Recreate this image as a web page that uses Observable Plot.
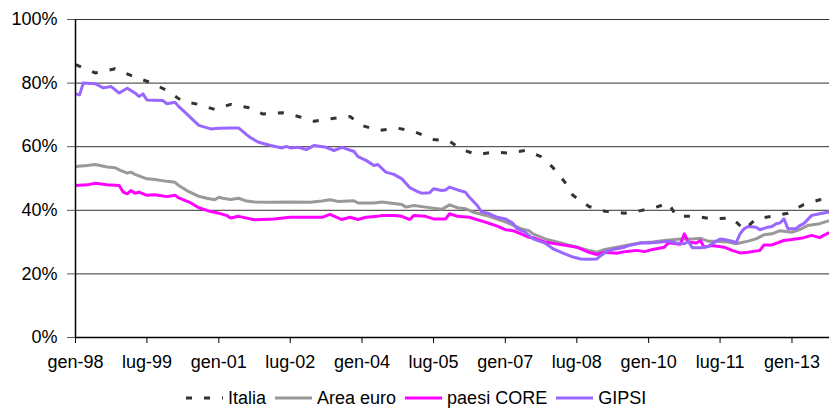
<!DOCTYPE html>
<html><head><meta charset="utf-8">
<script src="https://cdn.jsdelivr.net/npm/d3@7"></script>
<script src="https://cdn.jsdelivr.net/npm/@observablehq/plot@0.6"></script>
<style>
body{margin:0;background:#fff;font-family:"Liberation Sans",Arial,sans-serif;}
#chart svg{display:block;}
#legend{position:relative;height:28px;width:829px;font-size:18px;color:#000;display:flex;align-items:center;padding-left:186px;box-sizing:border-box;white-space:nowrap;}
.item{display:flex;align-items:center;margin-right:9px;}
.item svg{margin-right:5px;display:block;}
</style></head><body>
<div id="chart"></div>
<div id="legend"></div>
<script>
const monthNames = ["gen","feb","mar","apr","mag","giu","lug","ago","set","ott","nov","dic"];
const tickDates = ["1998-01","1999-07","2001-01","2002-07","2004-01","2005-07","2007-01","2008-07","2010-01","2011-07","2013-01"];
const yTicks = [0,20,40,60,80,100];
const seriesNames = ["Italia","Area euro","paesi CORE","GIPSI"];
const seriesColors = ["#333333","#999999","#ff00ff","#9966ff"];

const italia = [["1998-01",85.8],["1998-06",83.2],["1998-11",84.5],["1999-03",82.4],["1999-08",80.1],["1999-12",77.7],
["2000-04",74.2],["2000-08",73.3],["2000-12",71.7],["2001-04",73.3],["2001-09",72.2],["2001-12",70.3],["2002-05",70.7],
["2002-09",69.5],["2003-01",68.0],["2003-05",68.8],["2003-10",69.5],["2004-01",66.7],["2004-05",65.1],["2004-10",65.8],
["2005-02",64.8],["2005-07",62.3],["2005-11",61.7],["2006-02",59.1],["2006-06",57.5],["2006-10",58.3],["2007-02",58.0],
["2007-06",58.8],["2007-10",56.9],["2008-01",53.4],["2008-04",48.8],["2008-06",44.7],["2008-10",41.2],["2009-02",39.7],
["2009-07",39.1],["2009-11",39.9],["2010-03",41.0],["2010-06",42.3],["2010-08",38.1],["2011-01",38.1],["2011-05",37.3],
["2011-10",37.6],["2012-01",33.9],["2012-04",37.3],["2012-08",38.1],["2012-12",39.1],["2013-04",41.8],["2013-08",43.3],["2013-11",43.3]];

const areaEuro = [["1998-01",53.8],["1998-04",54.1],["1998-06",54.4],["1998-09",53.6],["1998-11",53.4],["1998-12",52.7],
["1999-02",51.7],["1999-03",52.0],["1999-04",51.3],["1999-07",49.9],["1999-09",49.7],["1999-12",49.1],["2000-02",48.8],
["2000-03",47.8],["2000-05",46.2],["2000-08",44.4],["2000-10",43.8],["2000-12",43.3],["2001-01",44.1],["2001-02",43.8],
["2001-04",43.4],["2001-06",43.8],["2001-08",42.9],["2001-10",42.6],["2002-02",42.5],["2002-07",42.6],["2002-12",42.5],
["2003-03",42.9],["2003-05",43.3],["2003-07",42.8],["2003-11",43.0],["2003-12",42.3],["2004-04",42.3],["2004-06",42.6],
["2004-08",42.3],["2004-11",41.8],["2004-12",41.0],["2005-02",41.5],["2005-05",41.0],["2005-09",40.3],["2005-11",41.7],
["2006-01",40.8],["2006-03",40.5],["2006-05",39.4],["2006-09",38.1],["2006-12",36.8],["2007-02",35.8],["2007-05",34.2],
["2007-07",33.6],["2007-08",32.6],["2007-11",31.0],["2008-03",29.7],["2008-07",28.4],["2008-10",27.4],["2008-12",26.8],
["2009-02",27.7],["2009-05",28.4],["2009-07",28.9],["2009-11",29.8],["2010-02",30.0],["2010-05",30.5],["2010-09",31.0],
["2010-12",31.0],["2011-02",31.2],["2011-04",30.3],["2011-06",30.3],["2011-09",30.0],["2011-11",29.5],["2012-02",30.3],
["2012-04",31.0],["2012-06",32.3],["2012-08",32.6],["2012-10",33.6],["2013-01",33.1],["2013-03",33.9],["2013-05",35.2],
["2013-08",35.8],["2013-10",36.6],["2013-11",36.8]];

const paesiCore = [["1998-01",47.8],["1998-04",48.0],["1998-06",48.5],["1998-09",48.0],["1998-12",47.8],["1999-01",45.7],
["1999-02",45.2],["1999-03",46.2],["1999-04",45.4],["1999-05",45.7],["1999-07",44.7],["1999-09",44.9],["1999-12",44.3],
["2000-02",44.7],["2000-03",43.9],["2000-06",42.3],["2000-08",40.8],["2000-11",39.6],["2001-01",39.1],["2001-02",38.7],
["2001-03",38.4],["2001-04",37.6],["2001-06",38.1],["2001-10",37.0],["2002-03",37.3],["2002-07",37.8],["2002-11",37.8],
["2003-03",37.8],["2003-05",38.7],["2003-08",37.1],["2003-10",37.8],["2003-12",37.1],["2004-02",37.8],["2004-05",38.1],
["2004-06",38.4],["2004-09",38.4],["2004-11",38.1],["2005-01",37.1],["2005-02",38.4],["2005-05",38.1],["2005-07",37.3],
["2005-10",37.3],["2005-11",38.9],["2006-01",38.1],["2006-04",37.8],["2006-08",36.3],["2006-11",35.0],["2007-01",33.9],
["2007-03",33.6],["2007-05",32.6],["2007-07",31.5],["2007-08",31.4],["2007-11",30.0],["2008-03",29.2],["2008-07",28.4],
["2008-10",26.8],["2008-12",26.1],["2009-02",26.8],["2009-05",26.5],["2009-07",27.0],["2009-10",27.4],["2009-12",27.0],
["2010-02",27.7],["2010-05",28.4],["2010-06",29.8],["2010-09",29.3],["2010-10",32.6],["2010-11",30.0],["2011-01",29.7],
["2011-02",30.5],["2011-03",28.4],["2011-05",28.9],["2011-08",28.4],["2011-10",27.4],["2011-12",26.6],["2012-02",26.8],
["2012-05",27.4],["2012-06",29.1],["2012-08",29.1],["2012-11",30.5],["2013-01",30.8],["2013-04",31.4],["2013-06",32.1],
["2013-08",31.4],["2013-10",32.8],["2013-11",32.9]];

const gipsi = [["1998-01",76.6],["1998-02",76.3],["1998-03",80.0],["1998-06",79.8],["1998-08",78.5],["1998-10",78.9],
["1998-12",76.9],["1999-02",78.4],["1999-04",76.9],["1999-05",75.8],["1999-06",76.6],["1999-07",74.7],["1999-11",74.5],
["1999-12",73.5],["2000-02",74.0],["2000-03",72.6],["2000-05",70.3],["2000-07",67.9],["2000-08",66.7],["2000-11",65.6],
["2001-01",65.8],["2001-04",65.9],["2001-06",65.9],["2001-08",63.8],["2001-09",62.8],["2001-11",61.4],["2002-02",60.4],
["2002-05",59.6],["2002-06",60.1],["2002-07",59.6],["2002-09",59.8],["2002-11",59.1],["2003-01",60.4],["2003-04",59.8],
["2003-06",58.8],["2003-08",59.8],["2003-11",58.5],["2003-12",56.9],["2004-02",55.7],["2004-04",54.1],["2004-05",54.4],
["2004-07",52.0],["2004-09",51.3],["2004-11",49.9],["2005-01",47.1],["2005-03",45.9],["2005-04",45.4],["2005-06",45.5],
["2005-07",46.8],["2005-09",46.2],["2005-10",46.4],["2005-11",47.3],["2006-01",46.4],["2006-03",45.7],["2006-04",44.1],
["2006-06",41.5],["2006-07",39.6],["2006-09",38.9],["2006-11",37.8],["2007-01",37.3],["2007-03",35.9],["2007-04",34.2],
["2007-06",33.1],["2007-08",31.0],["2007-11",29.7],["2008-01",27.9],["2008-04",26.3],["2008-06",25.3],["2008-08",24.7],
["2008-10",24.6],["2008-12",24.7],["2009-01",25.8],["2009-03",27.4],["2009-05",27.9],["2009-07",28.4],["2009-08",28.9],
["2009-11",29.7],["2010-01",29.7],["2010-04",30.0],["2010-06",30.3],["2010-08",29.7],["2010-10",29.5],["2010-11",30.2],
["2010-12",28.2],["2011-02",28.2],["2011-04",28.6],["2011-05",29.5],["2011-07",31.0],["2011-08",30.8],["2011-10",30.3],
["2011-11",29.8],["2011-12",32.6],["2012-01",34.2],["2012-02",34.9],["2012-04",34.7],["2012-05",33.9],["2012-07",34.7],
["2012-08",34.9],["2012-09",35.8],["2012-10",36.0],["2012-11",37.3],["2012-12",34.2],["2013-02",34.2],["2013-03",35.2],
["2013-04",35.8],["2013-06",38.4],["2013-08",38.9],["2013-10",39.4],["2013-11",39.6]];

const parse = d3.utcParse("%Y-%m");
const seriesData = [italia, areaEuro, paesiCore, gipsi];
const rows = [];
seriesData.forEach((arr, i) => arr.forEach(([d, v]) => rows.push({date: parse(d), value: v, series: seriesNames[i]})));

const font = '"Liberation Sans", Arial, sans-serif';
const lineOpts = (name, i, extra = {}) => Plot.line(rows.filter(r => r.series === name), {
  x: "date", y: "value", stroke: seriesColors[i], strokeWidth: 3, strokeLinejoin: "round", clip: true, ...extra
});

const chart = Plot.plot({
  width: 829, height: 384,
  marginLeft: 75, marginRight: 0, marginTop: 19, marginBottom: 47,
  style: {fontFamily: font, fontSize: "18px", color: "#000", background: "#fff", overflow: "visible"},
  x: {type: "utc", domain: [parse("1998-01"), new Date(Date.UTC(2013, 9, 15))]},
  y: {domain: [0, 100]},
  marks: [
    Plot.ruleY(yTicks.filter(t => t > 0), {stroke: "#333", strokeWidth: 1}),
    lineOpts("Area euro", 1),
    lineOpts("paesi CORE", 2),
    lineOpts("GIPSI", 3),
    lineOpts("Italia", 0, {strokeDasharray: "6,12", strokeLinecap: "butt"}),
    Plot.ruleY([0], {stroke: "#000", strokeWidth: 1.5}),
    Plot.ruleX([parse("1998-01")], {stroke: "#000", strokeWidth: 1.5}),
    Plot.axisY({ticks: yTicks, tickFormat: d => d + "%", tickSize: 8, tickPadding: 10, fontSize: 18, stroke: "#555", label: null}),
    Plot.axisX({ticks: tickDates.map(parse), tickFormat: d => monthNames[d.getUTCMonth()] + "-" + String(d.getUTCFullYear()).slice(2),
      tickSize: 6, tickPadding: 12, fontSize: 18, stroke: "#000", label: null})
  ]
});
document.getElementById("chart").appendChild(chart);

const legend = document.getElementById("legend");
seriesNames.forEach((name, i) => {
  const item = document.createElement("div");
  item.className = "item";
  const dash = i === 0 ? ' stroke-dasharray="6,12"' : '';
  item.innerHTML = `<svg width="37" height="6"><line x1="0" y1="3" x2="37" y2="3" stroke="${seriesColors[i]}" stroke-width="3"${dash}/></svg><span>${name}</span>`;
  legend.appendChild(item);
});
</script>
</body></html>
